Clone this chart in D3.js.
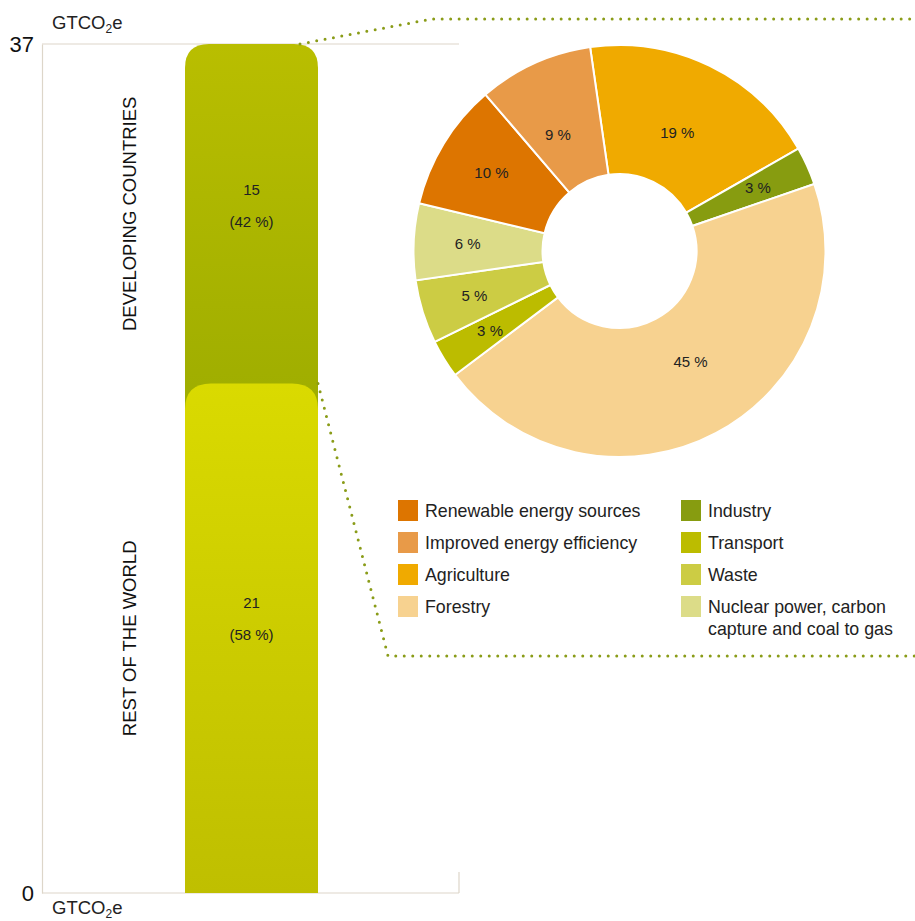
<!DOCTYPE html>
<html>
<head>
<meta charset="utf-8">
<script src="https://cdn.jsdelivr.net/npm/d3@7"></script>
<style>
  html, body { margin: 0; padding: 0; background: #fff; }
  svg { display: block; font-family: "Liberation Sans", Arial, sans-serif; }
</style>
</head>
<body>
<svg id="chart" width="915" height="921"></svg>
<script>
// ---- data ----
const barCategories = ["REST OF THE WORLD", "DEVELOPING COUNTRIES"];
const barValues = [22.2, 14.8];            // drawn heights (GtCO2e)
const barValueLabels = ["21", "15"];
const barShareLabels = ["(58 %)", "(42 %)"];
const axisTicks = [0, 37];
const unitLabel = "GTCO";

const pieCategories = ["Agriculture", "Industry", "Forestry", "Transport", "Waste",
  "Nuclear power, carbon capture and coal to gas", "Renewable energy sources", "Improved energy efficiency"];
const pieValues = [19, 3, 45, 3, 5, 6, 10, 9];
const pieColors = ["#f0aa00", "#879c10", "#f7d290", "#bcbc00", "#cccc44", "#dcdc88", "#dd7500", "#e89a48"];

const legendCol1 = ["Renewable energy sources", "Improved energy efficiency", "Agriculture", "Forestry"];
const legendCol2 = ["Industry", "Transport", "Waste", "Nuclear power, carbon|capture and coal to gas"];

// ---- chart ----
const svg = d3.select("#chart");
const y = d3.scaleLinear().domain([0, 37]).range([893, 44]);
const x = d3.scaleBand().domain(["bar"]).range([185, 318]).padding(0);
const frameColor = "#ddd6c9";
const dotColor = "#8a9c18";

// gradients
const defs = svg.append("defs");
function grad(id, stops) {
  const g = defs.append("linearGradient").attr("id", id).attr("x1", 0).attr("y1", 0).attr("x2", 0).attr("y2", 1);
  stops.forEach(s => g.append("stop").attr("offset", s[0]).attr("stop-color", s[1]));
}
grad("gDev", [[0, "#b9be00"], [1, "#9ead00"]]);
grad("gRest", [[0, "#dada00"], [0.5, "#cccc00"], [1, "#bfbf00"]]);

// frame
svg.append("line").attr("x1", 42).attr("x2", 459).attr("y1", y(37)).attr("y2", y(37)).attr("stroke", frameColor).attr("stroke-width", 1.2);
svg.append("line").attr("x1", 42).attr("x2", 459).attr("y1", y(0)).attr("y2", y(0)).attr("stroke", frameColor).attr("stroke-width", 1.2);
svg.append("line").attr("x1", 459).attr("x2", 459).attr("y1", y(0) - 21).attr("y2", y(0)).attr("stroke", frameColor).attr("stroke-width", 1.2);
const axis = d3.axisLeft(y).tickValues(axisTicks).tickSize(0).tickPadding(8).tickFormat(d3.format("d"));
const ag = svg.append("g").attr("transform", "translate(42,0)").call(axis);
ag.select(".domain").attr("stroke", frameColor).attr("stroke-width", 1.2);
ag.selectAll("text").attr("font-size", 22).attr("fill", "#111").attr("font-family", "Liberation Sans, Arial, sans-serif");

function unit(xp, yp) {
  const t = svg.append("text").attr("x", xp).attr("y", yp).attr("font-size", 18.5).attr("fill", "#222");
  t.append("tspan").text(unitLabel);
  t.append("tspan").attr("font-size", 12).attr("dy", 4).text("2");
  t.append("tspan").attr("dy", -4).text("e");
}
unit(52, 29);
unit(52, 914);

// rounded-top bar path
function topRounded(x0, x1, yTop, yBot, r) {
  return `M${x0},${yBot} L${x0},${yTop + r} Q${x0},${yTop} ${x0 + r},${yTop} L${x1 - r},${yTop} Q${x1},${yTop} ${x1},${yTop + r} L${x1},${yBot} Z`;
}
const bx0 = x("bar"), bx1 = x("bar") + x.bandwidth();
const restTop = y(barValues[0]);
svg.append("path").attr("d", topRounded(bx0, bx1, y(barValues[0] + barValues[1]), restTop + 30, 24)).attr("fill", "url(#gDev)");
svg.append("path").attr("d", topRounded(bx0, bx1, restTop, y(0), 26)).attr("fill", "url(#gRest)");

// bar labels
let base = 0;
barValues.forEach((v, i) => {
  const cy = y(base + v * 0.57);
  const mid = y(base + v / 2);
  svg.append("text").attr("x", (bx0 + bx1) / 2).attr("y", cy).attr("dy", "0.35em").attr("text-anchor", "middle")
    .attr("font-size", 15).attr("fill", "#222").text(barValueLabels[i]);
  svg.append("text").attr("x", (bx0 + bx1) / 2).attr("y", cy + 32).attr("dy", "0.35em").attr("text-anchor", "middle")
    .attr("font-size", 15).attr("fill", "#222").text(barShareLabels[i]);
  svg.append("text").attr("transform", `translate(130,${mid}) rotate(-90)`).attr("dy", "0.35em").attr("text-anchor", "middle")
    .attr("font-size", 18.5).attr("fill", "#111").text(barCategories[i]);
  base += v;
});

// dotted connector lines
const dots = { stroke: dotColor, "stroke-width": 3, "stroke-linecap": "round", "stroke-dasharray": "0 8.5", fill: "none" };
function dotted(pts) {
  const p = svg.append("path").attr("d", d3.line()(pts));
  Object.entries(dots).forEach(([k, v]) => p.attr(k, v));
}
dotted([[300, y(37)], [432, 19], [915, 19]]);
dotted([[318, restTop], [388, 656], [915, 656]]);

// donut
const cx = 619.5, cyP = 251;
const rIn = 77, rOut = 206;
const start = -8.2 * Math.PI / 180;
const pie = d3.pie().sort(null).startAngle(start).endAngle(start + 2 * Math.PI);
const arcs = pie(pieValues);
const arc = d3.arc().innerRadius(rIn).outerRadius(rOut);
const pg = svg.append("g").attr("transform", `translate(${cx},${cyP})`);
pg.selectAll("path").data(arcs).join("path").attr("d", arc)
  .attr("fill", (d, i) => pieColors[i]).attr("stroke", "#fff").attr("stroke-width", 2);
pg.selectAll("text").data(arcs).join("text")
  .attr("transform", d => {
    const r = d.data < 9 ? 152 : (d.data === 10 ? 150 : 132);
    const a = (d.startAngle + d.endAngle) / 2 - (d.data === 9 ? 0.06 : 0) + (d.data === 45 ? -0.08 : 0);
    return `translate(${r * Math.sin(a)},${-r * Math.cos(a)})`;
  })
  .attr("dy", "0.35em").attr("text-anchor", "middle").attr("font-size", 15).attr("fill", "#222")
  .text(d => d.data + " %");

// legend
const colorOf = name => pieColors[pieCategories.indexOf(name.replace("|", " "))];
function legend(items, x0) {
  items.forEach((name, i) => {
    const yy = 500 + i * 32;
    svg.append("rect").attr("x", x0).attr("y", yy).attr("width", 20).attr("height", 21).attr("fill", colorOf(name));
    const t = svg.append("text").attr("x", x0 + 27).attr("y", yy + 17).attr("font-size", 17.8).attr("fill", "#222");
    name.split("|").forEach((line, j) => {
      t.append("tspan").attr("x", x0 + 27).attr("dy", j === 0 ? 0 : 22).text(line);
    });
  });
}
legend(legendCol1, 398);
legend(legendCol2, 681);
</script>
</body>
</html>
